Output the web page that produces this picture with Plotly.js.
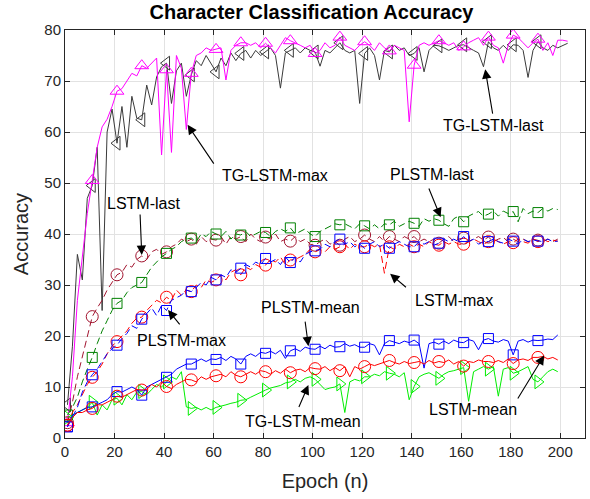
<!DOCTYPE html>
<html>
<head>
<meta charset="utf-8">
<script src="https://cdn.plot.ly/plotly-3.0.1.min.js"></script>
<style>html,body{margin:0;padding:0;background:#fff}#chart{width:590px;height:499px}</style>
</head>
<body>
<div id="chart"></div>
<script>
// Epochs (odd epochs sampled); TG-LSTM last/max run a little longer
const epochs = [1,3,5,7,9,11,13,15,17,19,21,23,25,27,29,31,33,35,37,39,41,43,45,47,49,51,53,55,57,59,61,63,65,67,69,71,73,75,77,79,81,83,85,87,89,91,93,95,97,99,101,103,105,107,109,111,113,115,117,119,121,123,125,127,129,131,133,135,137,139,141,143,145,147,149,151,153,155,157,159,161,163,165,167,169,171,173,175,177,179,181,183,185,187,189,191,193,195,197,199];
const epochsTG = [1,3,5,7,9,11,13,15,17,19,21,23,25,27,29,31,33,35,37,39,41,43,45,47,49,51,53,55,57,59,61,63,65,67,69,71,73,75,77,79,81,83,85,87,89,91,93,95,97,99,101,103,105,107,109,111,113,115,117,119,121,123,125,127,129,131,133,135,137,139,141,143,145,147,149,151,153,155,157,159,161,163,165,167,169,171,173,175,177,179,181,183,185,187,189,191,193,195,197,199,201,203];

const tgLstmMax = [
3,12,27,36,44,50.5,57,61,62.5,65,
68,68.5,70,71.5,71,73,72.5,73.5,74.5,55.5,
72.2,56,75,72.5,60.5,71.5,75,75.5,76.5,76,
76.2,76.5,70.2,76,77,77.5,77.5,77,77.5,76.5,
77.4,76.5,75.5,77,78.5,77.9,77.5,77,76.5,77,
75.4,76,77.5,76.5,77,78.6,77,76.5,76,77,
77.7,77,76,77.5,76.5,75.9,77,76.5,76,62,
73.1,77,77.5,77,77.5,77.9,77.5,77,77.5,76,
76.7,77.5,78,78.5,77,78.6,77,76.5,73.5,77,
79,78.5,77.5,76.5,77.5,78.2,76,77.5,75,78,
78,77.8];
const tgLstmLast = [
6.5,18,36,31,47,49.5,57,25,60,64.5,
57.8,65,57,67,62.7,62.4,69.2,65.3,70.8,72.8,
73.5,65.6,72,73.5,67,71.2,74,73,75,73.5,
71.8,74.5,73,75.5,74,75.4,76,74.5,76,75,
75.7,76.5,75,68.6,75.5,76,76.5,75.5,76.5,76,
75.7,72.9,76,75.5,76.5,77.5,76,75.5,76,65.6,
75.4,76.5,75,70.2,76,75.7,77,76,76.5,75,
75.4,76.5,71.8,76,77,76.9,76.5,76,76.5,77,
77.1,76.5,76,75.5,72.8,77.7,76.5,76,77,76,
77.1,77,76,70.7,76,77.7,76.5,76,77,76.5,
77,77.4];
const lstmLast = [
3,7,12,16,20,23.8,25.5,27,29,30.5,
32,32.5,34,33.5,35,35.7,35,36.5,37,36,
36.5,37.5,38,39,38.5,39,38,39.5,38.5,39,
38.8,39.5,38,39.5,39,39.5,38.5,40,39,38.5,
39.4,39,40,38.5,39,38.6,39.5,38.5,39,38,
37.8,38.5,39,38,38.5,37.8,39,39.5,38.5,39,
39.8,39,38.5,39.5,38.5,39.5,39,38.5,39.5,39,
39.5,38.5,39,38.5,39,38.2,39,39.5,38.5,39,
39.2,38.5,39,39.5,38.8,39.4,38.5,39,39.3,38.5,
39,38.5,39,38.5,39,38.8,38.5,39,38.5,39];
const plstmLast = [
4.5,6,8,11,13.5,15.8,18.5,21,23,25,
26.4,27,28.5,29.5,30,30.5,32,33.5,34.5,35.5,
36.2,37,37.5,38.5,39,39.2,38.5,40,39.5,40.5,
40,39.5,40.5,39,40,39.8,40.5,39.5,40,40.5,
40.3,39.5,40.5,41,40.5,41.2,40,40.5,41,40,
39.5,40.5,41,41.5,42,41.8,42,41.5,41,42,
41.6,41,41.8,41,42,41.8,42.5,41.5,42,42.5,
42.1,41.5,43,42.5,43,42.7,42,41.5,43,43.5,
42.4,43.5,44,44.4,43.5,43.9,44.5,43.5,44.5,44,
44.4,42.4,45,44,44.5,44.2,45,44.5,45,44.8];
const lstmMax = [
2.5,5,6.5,8.5,10.5,11.9,13,14.5,16.5,18,
18.9,20,21,22.5,23.5,23.7,25,26,27,26.5,
27.6,27,29,28,29,28.7,30,29.5,31,30.5,
31,32,31,32.5,33,32,33.5,33,34,33.5,
33.9,35,34.5,35.5,34,34.9,35,35.5,36,37,
36.5,37,36.5,37.5,37,37.5,38,37,38,37.5,
37.5,38,37.5,38,32.3,37.5,37,38,37.5,38,
37.5,38,37.5,38.5,38,37.8,38.5,38,38.5,38,
38,38.5,39,38.5,38,38.5,39,38.5,38,38.5,
38.3,39,38.5,38.2,39,38.5,39,38.5,38.8,38.6];
const plstmMax = [
2.2,4,6,9,11,12.4,13.5,15,16.5,17.5,
18.2,19.5,20.5,22,21.5,23.3,24.5,25.5,24,26,
25,27,27.5,28,29,28.7,29.5,30.5,30,31.5,
31,32,31.5,33,32.5,33.3,34,33.5,34.5,34,
35.2,34.5,35,34,35.5,34.4,35.5,34.5,36,36.5,
36.7,37,38,37.5,38.5,39,38,38.5,37.5,38,
37.2,38,38.5,37.5,38,37.2,38,38.5,38,37.5,
37.5,38.5,38,38.5,37.8,38.2,39,38.5,39,38.5,
39.5,38.5,39,38,38.5,38.5,39,38.5,38.2,39,
38.6,38,39,38.5,38.8,38.6,38.5,39,38.5,38.6];
const plstmMean = [
2.2,4.5,5,5.5,6,6.1,6.5,7,7.5,8.5,
9.1,9,9.5,10,9.5,8.4,10,10.5,11,11.5,
11.9,12.5,13.5,14,14.5,14.5,15,15.5,15,15.5,
15.4,15.8,15.2,16,15.5,14.5,16,16.5,16,16.8,
16.6,17,16.5,17.2,15.6,17.1,17.5,17,17.8,17.5,
17.4,18,17.5,18.2,17.8,17.9,18.5,18,18.3,17.8,
17.8,18.5,18.2,16.3,18.5,19.1,18.8,18.5,19,18.7,
19.2,18.5,13.7,18.5,18.8,18.4,19,18.5,19.2,18.8,
18.7,19.3,19,17.3,19.2,19.5,19,18.8,19.3,19,
16.3,19,19.3,18.8,19.2,19.1,19.2,19.4,19.3,20.2];
const lstmMean = [
2.5,4,5,5,5.5,5.8,6.5,6.5,7,7.5,
8.2,8,8.5,9,9.5,9.4,9.5,10.5,10,11,
10.1,9.7,10.5,11,11.5,11.4,11,12,11.5,12,
12.2,12.5,12,13,12.3,12,12.5,13,12.5,13.2,
13,12.5,13.2,12.7,13.5,12.8,13.3,13.5,13,13.8,
13.6,13.5,14,13.2,13.8,13.2,14,12,14,13.5,
14,14.5,14.2,14.5,14.8,15.2,14.8,14.5,15,14.6,
14.8,15,14.5,15.2,14.7,15,14.8,15.3,14.5,15,
14.1,15,14.8,15.3,15,15,14.8,15.2,14.8,15.5,
14.6,15.3,15.5,15.2,15.8,15.8,16,15.5,15.8,15.3];
const tgLstmMean = [
4,4.5,5,5.5,6,7,4.5,6.5,5.5,7.5,
7.8,6.5,8.5,7.5,9,9.1,8.5,9.5,10.5,10,
11,12,11.5,13,6.1,5.8,6,5.5,6,5.5,
6,6.2,6.5,6.8,7,7.4,7.5,8,8.5,9,
9.4,9.8,10,10.3,10.8,11,11.5,11,11.7,12,
11.5,10.5,9.5,9.8,10,10.6,5,11,11.5,11.2,
12,12,12.5,12.2,13,12.7,12.5,12,12.8,7.5,
10.1,12,12.5,12.8,12.3,11.7,12.5,13,13.2,13.5,
13.8,7.2,13,13.5,14,13.5,14,8.2,13.5,13.8,
12.7,13,13.5,14,11.5,11,12,13,13.5,13];

const xTickVals = [0,20,40,60,80,100,120,140,160,180,200];
const yTickVals = [0,10,20,30,40,50,60,70,80];

const seriesDefs = [
  {name:'TG-LSTM-last', x:epochsTG, y:tgLstmLast, color:'#3a3a3a', dash:'solid', symbol:'triangle-left-open', size:12},
  {name:'TG-LSTM-max',  x:epochsTG, y:tgLstmMax,  color:'#FF00FF', dash:'solid', symbol:'triangle-up-open', size:12},
  {name:'LSTM-last',    x:epochs, y:lstmLast,   color:'#A2142F', dash:'7px,4px', symbol:'circle-open', size:12},
  {name:'PLSTM-last',   x:epochs, y:plstmLast,  color:'#008000', dash:'7px,4px', symbol:'square-open', size:10},
  {name:'LSTM-max',     x:epochs, y:lstmMax,    color:'#FF0000', dash:'7px,4px', symbol:'circle-open', size:12},
  {name:'PLSTM-max',    x:epochs, y:plstmMax,   color:'#0000FF', dash:'7px,4px', symbol:'square-open', size:10},
  {name:'TG-LSTM-mean', x:epochs, y:tgLstmMean, color:'#00EE00', dash:'solid', symbol:'triangle-right-open', size:12},
  {name:'PLSTM-mean',   x:epochs, y:plstmMean,  color:'#0000FF', dash:'solid', symbol:'square-open', size:10},
  {name:'LSTM-mean',    x:epochs, y:lstmMean,   color:'#FF0000', dash:'solid', symbol:'circle-open', size:12}
];

const traces = [];
seriesDefs.forEach(s => {
  traces.push({x:s.x, y:s.y, type:'scatter', mode:'lines', name:s.name,
    line:{color:s.color, width:1, dash:s.dash}, hoverinfo:'skip', showlegend:false});
  const mx = [], my = [];
  s.x.forEach((e,i) => { if (e % 10 === 1 && e <= 191) { mx.push(e); my.push(s.y[i]); } });
  traces.push({x:mx, y:my, type:'scatter', mode:'markers', name:s.name,
    marker:{symbol:s.symbol, size:s.size, color:s.color, line:{color:s.color, width:1}},
    hoverinfo:'skip', showlegend:false});
});

const notes = [
  {label:'TG-LSTM-last', hx:169.7, hy:72.3, tx:172.8, ty:63.3, lx:172.9, ly:61.2},
  {label:'TG-LSTM-max',  hx:49.5,  hy:61.4, tx:60.5,  ty:53.5, lx:84.7,  ly:51.4},
  {label:'PLSTM-last',   hx:151.7, hy:43.3, tx:146.7, ty:49.2, lx:148.4, ly:51.6},
  {label:'LSTM-last',    hx:31,    hy:35.9, tx:30.3,  ty:44.1, lx:31.7,  ly:46},
  {label:'LSTM-max',     hx:131.3, hy:32.2, tx:138.3, ty:29.3, lx:157,   ly:26.9},
  {label:'PLSTM-mean',   hx:98.3,  hy:18.0, tx:96.9,  ty:23.1, lx:99.3,  ly:25.5},
  {label:'PLSTM-max',    hx:41.6,  hy:25.1, tx:46.8,  ty:22.0, lx:47,    ly:19.05},
  {label:'TG-LSTM-mean', hx:98.3,  hy:10.4, tx:94.2,  ty:5.8,  lx:96.2,  ly:3.3},
  {label:'LSTM-mean',    hx:193.5, hy:16.2, tx:182.5, ty:7.45, lx:164.9, ly:5.5}
];
const annotations = [];
notes.forEach(n => {
  annotations.push({x:n.hx, y:n.hy, xref:'x', yref:'y', ax:n.tx, ay:n.ty, axref:'x', ayref:'y',
    text:'', showarrow:true, arrowhead:2, arrowsize:1.7, arrowwidth:1.1, arrowcolor:'#000', standoff:0});
  annotations.push({x:n.lx, y:n.ly, xref:'x', yref:'y', text:n.label, showarrow:false,
    font:{family:'Liberation Sans, Arial, sans-serif', size:16, color:'#000'}, xanchor:'center', yanchor:'middle'});
});

const axisCommon = {
  showline:true, linecolor:'#262626', linewidth:1, mirror:'ticks',
  ticks:'inside', ticklen:5, tickcolor:'#262626', tickwidth:1,
  showgrid:true, gridcolor:'#e2e2e2', gridwidth:1, zeroline:false,
  tickfont:{family:'Liberation Sans, Arial, sans-serif', size:15, color:'#262626'}
};

const layout = {
  width:590, height:499,
  margin:{l:65, r:5, t:30, b:61},
  paper_bgcolor:'#fff', plot_bgcolor:'#fff',
  title:{text:'<b>Character Classification Accuracy</b>', x:0.528, xanchor:'center', y:0.975, yanchor:'middle',
    font:{family:'Liberation Sans, Arial, sans-serif', size:20, color:'#000'}},
  xaxis:Object.assign({}, axisCommon, {range:[0,210], tickvals:xTickVals,
    title:{text:'Epoch (n)', standoff:14, font:{family:'Liberation Sans, Arial, sans-serif', size:20, color:'#262626'}}}),
  yaxis:Object.assign({}, axisCommon, {range:[0,80], tickvals:yTickVals,
    title:{text:'Accuracy', standoff:10, font:{family:'Liberation Sans, Arial, sans-serif', size:20, color:'#262626'}}}),
  annotations:annotations,
  showlegend:false
};

Plotly.newPlot('chart', traces, layout, {displayModeBar:false, staticPlot:true});
</script>
</body>
</html>
